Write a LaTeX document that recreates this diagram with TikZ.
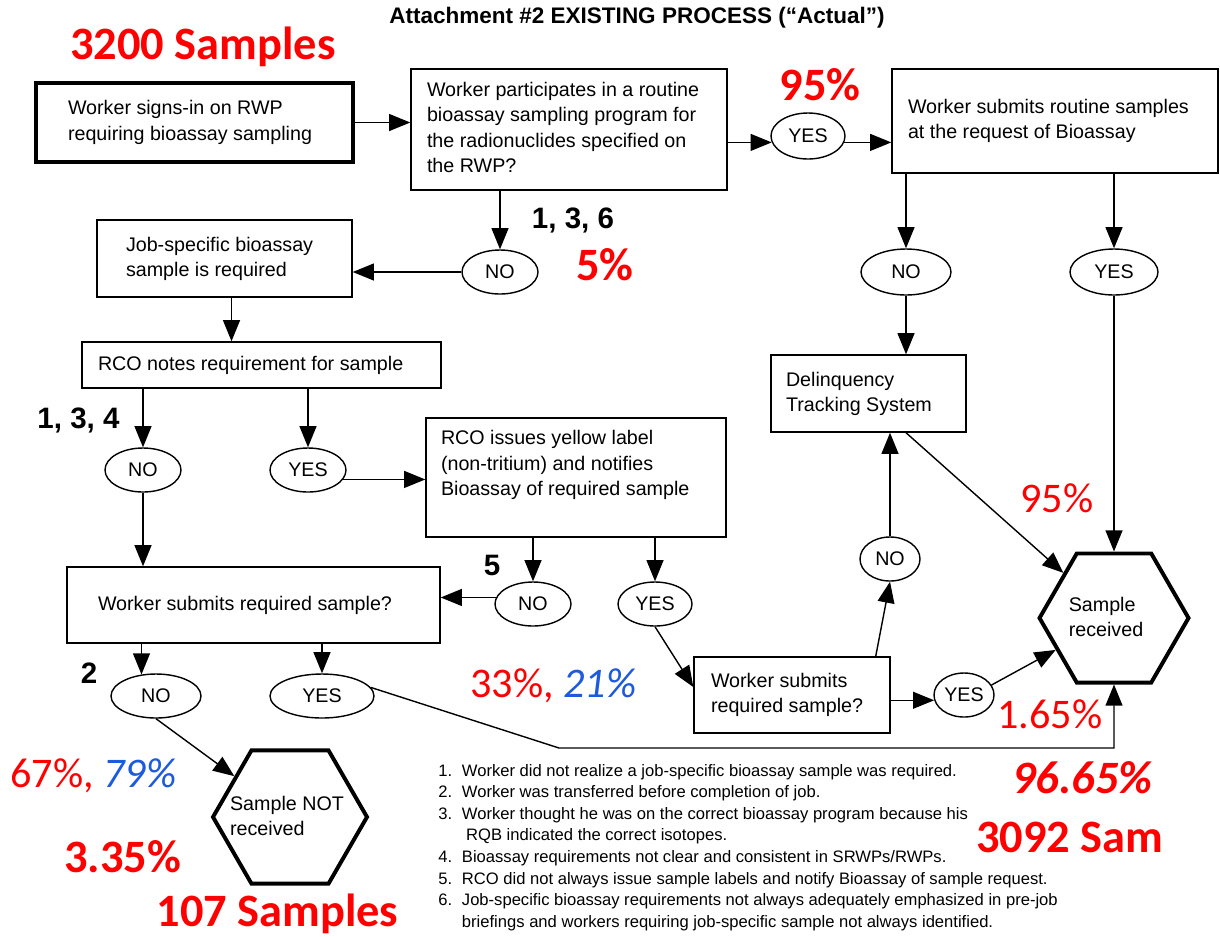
\documentclass[tikz,border=0pt]{standalone}
\usepackage{fontspec}
\setmainfont{Liberation Sans}
\newfontfamily\carl{Carlito}
\usetikzlibrary{shapes.geometric,arrows.meta}
\newdimen\pxlen \pxlen=0.025cm
\newcommand\lbox[2]{\makebox[#1\pxlen][l]{\begin{tabular}{@{}l@{}}#2\end{tabular}}}
\newcommand\boxfont{\fontsize{14}{17.8}\selectfont}
\definecolor{pctred}{RGB}{255,0,0}
\definecolor{pctblue}{RGB}{30,90,220}
\begin{document}
\begin{tikzpicture}[x=0.025cm,y=-0.025cm,
  box/.style={draw,line width=1pt,inner ysep=0pt,font=\boxfont},
  thickbox/.style={box,line width=2.8pt},
  oval/.style={ellipse,draw,line width=1pt,inner sep=0pt,font=\boxfont},
  hexa/.style={regular polygon,regular polygon sides=6,draw,line width=2.8pt,inner sep=0pt,minimum size=152\pxlen},
  hexatext/.style={font=\boxfont,align=left,inner sep=0pt},
  arr/.style={-{Triangle[length=15pt,width=12pt]},line width=1pt},
  num/.style={font=\fontsize{21}{24}\selectfont\bfseries,anchor=base,inner sep=0pt},
  bigpct/.style={font=\carl\fontsize{33}{38}\selectfont\bfseries,text=pctred,anchor=base,inner sep=0pt},
  pct/.style={font=\carl\fontsize{30}{34}\selectfont,text=pctred,anchor=base west,inner sep=0pt},
]
\useasboundingbox (0,0) rectangle (1220,936);

% title and headline
\node[font=\fontsize{16}{19}\selectfont\bfseries] (title) at (637,18) {Attachment \#2 EXISTING PROCESS (“Actual”)};
\node[bigpct] (s3200) at (203,59) {3200 Samples};

% top row
\node[thickbox,inner xsep=32\pxlen,minimum height=79\pxlen] (box1) at (194.5,122.5) {\lbox{253}{Worker signs-in on RWP\\requiring bioassay sampling}};
\node[box,inner xsep=16\pxlen,minimum height=121\pxlen] (box2) at (569,129.5) {\lbox{284}{Worker participates in a routine\\bioassay sampling program for\\the radionuclides specified on\\the RWP?}};
\node[oval,minimum width=74\pxlen,minimum height=46\pxlen] (yes1) at (808,136) {YES};
\node[bigpct] (p95a) at (820,100) {95\%};
\node[box,inner xsep=16\pxlen,minimum height=104\pxlen] (box3) at (1055,121) {\lbox{294}{Worker submits routine samples\\at the request of Bioassay}};

% second row
\node[num] (n136) at (573,228) {1, 3, 6};
\node[bigpct] (p5) at (605,280) {5\%};
\node[oval,minimum width=76\pxlen,minimum height=44\pxlen] (no1) at (500,272) {NO};
\node[box,inner xsep=29\pxlen,minimum height=77\pxlen] (job) at (224.5,258.5) {\lbox{197}{Job-specific bioassay\\sample is required}};
\node[oval,minimum width=90\pxlen,minimum height=46\pxlen] (no2) at (906,272) {NO};
\node[oval,minimum width=88\pxlen,minimum height=46\pxlen] (yes2) at (1114,272) {YES};

% middle
\node[box,inner xsep=16\pxlen,minimum height=46\pxlen] (rco) at (261.5,365) {\lbox{327}{RCO notes requirement for sample}};
\node[box,inner xsep=15\pxlen,minimum height=77\pxlen] (delinq) at (868.5,393.5) {\lbox{165}{Delinquency\\Tracking System}};
\node[num] (n134) at (78.5,428) {1, 3, 4};
\node[oval,minimum width=76\pxlen,minimum height=44\pxlen] (no3) at (143,470) {NO};
\node[oval,minimum width=76\pxlen,minimum height=44\pxlen] (yes3) at (308,470) {YES};
\node[box,inner xsep=15\pxlen,minimum height=119\pxlen] (issues) at (576,477.5) {\lbox{270}{RCO issues yellow label\\(non-tritium) and notifies\\Bioassay of required sample\\\mbox{}}};
\node[pct] (p95b) at (1020,512) {95\%};
\node[num] (n5) at (492,575) {5};
\node[box,inner xsep=31\pxlen,minimum height=76\pxlen] (ws1) at (253.5,605) {\lbox{311}{Worker submits required sample?}};
\node[oval,minimum width=76\pxlen,minimum height=44\pxlen] (no4) at (533,604) {NO};
\node[oval,minimum width=74\pxlen,minimum height=44\pxlen] (yes4) at (655,604) {YES};
\node[oval,minimum width=60\pxlen,minimum height=44\pxlen] (no5) at (890,559) {NO};
\node[hexa,minimum size=149\pxlen] (recv) at (1114,618) {};
\node[hexatext] (recvtext) at (1106,617) {Sample\\received};
\node[box,inner xsep=17\pxlen,minimum height=76\pxlen] (ws2) at (792,695) {\lbox{162}{Worker submits\\required sample?}};
\node[oval,minimum width=60\pxlen,minimum height=44\pxlen] (yes5) at (964,695) {YES};
\node[pct] (p165) at (997,728) {1.65\%};
\node[pct] (p3321) at (470,697) {33\%, \textcolor{pctblue}{\itshape 21\%}};

% bottom
\node[num] (n2) at (89,683) {2};
\node[oval,minimum width=90\pxlen,minimum height=44\pxlen] (no6) at (156,696) {NO};
\node[oval,minimum width=104\pxlen,minimum height=44\pxlen] (yes6) at (322,696) {YES};
\node[pct] (p6779) at (10,787) {67\%, \textcolor{pctblue}{\itshape 79\%}};
\node[hexa,minimum size=154\pxlen] (notrecv) at (290,817) {};
\node[hexatext] (notrecvtext) at (287,815.5) {Sample NOT\\received};
\node[bigpct] (p335) at (122.5,872) {3.35\%};
\node[bigpct] (s107) at (277.5,926) {107 Samples};

\node[anchor=base west,inner sep=0pt,font=\fontsize{11.8}{15.4}\selectfont] (notes) at (438,776) {\begin{tabular}[t]{@{}r@{\hspace{7pt}}l@{}}
1. & Worker did not realize a job-specific bioassay sample was required.\\
2. & Worker was transferred before completion of job.\\
3. & Worker thought he was on the correct bioassay program because his\\
 & \hspace{3pt}RQB indicated the correct isotopes.\\
4. & Bioassay requirements not clear and consistent in SRWPs/RWPs.\\
5. & RCO did not always issue sample labels and notify Bioassay of sample request.\\
6. & Job-specific bioassay requirements not always adequately emphasized in pre-job\\
 & briefings and workers requiring job-specific sample not always identified.
\end{tabular}};

\node[font=\carl\fontsize{33}{38}\selectfont\bfseries\itshape,text=pctred,anchor=base west,inner sep=0pt] (p9665) at (1012,793) {96.65\%};
\node[font=\carl\fontsize{33}{38}\selectfont\bfseries,text=pctred,anchor=base west,inner sep=0pt] (s3092) at (976,852) {3092 Sam};

% connectors
\draw[arr] (box1.east) -- (box1.east -| box2.west);
\draw[arr] (box2.east |- yes1.190) -- (yes1.190);
\draw[arr] (yes1.350) -- (yes1.350 -| box3.west);
\draw[arr] (box2.south -| no1.north) -- (no1.north);
\draw[arr] (no1.west) -- (no1.west -| job.east);
\draw[arr] ([xshift=7\pxlen]job.south) -- ([xshift=7\pxlen]job.south |- rco.north);
\draw[arr] (rco.south -| no3.north) -- (no3.north);
\draw[arr] (rco.south -| yes3.north) -- (yes3.north);
\draw[arr] (yes3.345) -- (yes3.345 -| issues.west);
\draw[arr] (no3.south) -- (no3.south |- ws1.north);
\draw[arr] (issues.south -| no4.north) -- (no4.north);
\draw[arr] (issues.south -| yes4.north) -- (yes4.north);
\draw[arr] (no4.170) -- (no4.170 -| ws1.east);
\draw[arr] (box3.south -| no2.north) -- (no2.north);
\draw[arr] (box3.south -| yes2.north) -- (yes2.north);
\draw[arr] (no2.south) -- (no2.south |- delinq.north);
\draw[arr] (delinq.south -| no2.south) -- (recv);
\draw[arr] (yes2.south) -- (recv.north);
\draw[arr] (no5.north) -- (no5.north |- delinq.south);
\draw[arr] ([xshift=-15\pxlen]ws2.north east) -- (no5.south);
\draw[arr] (yes4.south) -- ([yshift=8\pxlen]ws2.west);
\draw[arr] (yes5.190 -| ws2.east) -- (yes5.190);
\draw[arr] (yes5.20) -- (recv);
\draw[arr] (ws1.south -| no6.124) -- (no6.124);
\draw[arr] (ws1.south -| yes6.north) -- (yes6.north);
\draw[arr] (no6.south) -- (notrecv);
\coordinate (bend1) at (559,748);
\coordinate (bend2) at (1114,748);
\draw[arr] (yes6.10) -- (bend1) -- (bend2) -- (recv.south);
\end{tikzpicture}
\end{document}
